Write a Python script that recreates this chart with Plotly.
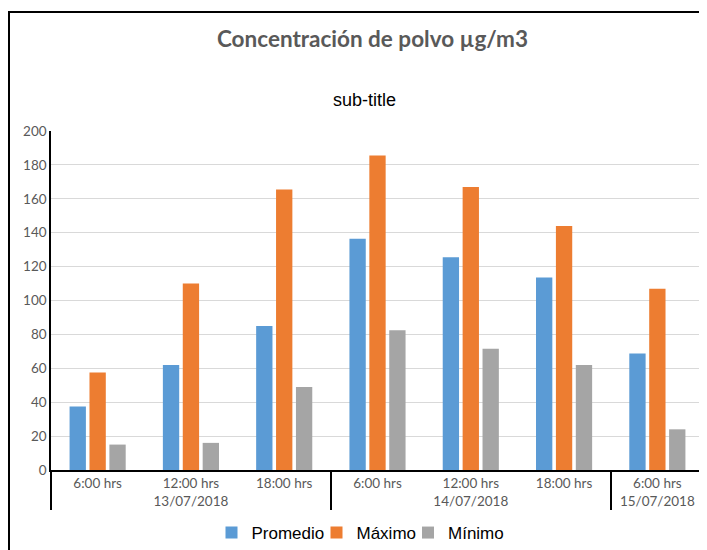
import plotly.graph_objects as go

hours = ["6:00 hrs", "12:00 hrs", "18:00 hrs", "6:00 hrs", "12:00 hrs", "18:00 hrs", "6:00 hrs"]
dates = ["13/07/2018", "13/07/2018", "13/07/2018",
         "14/07/2018", "14/07/2018", "14/07/2018", "15/07/2018"]
promedio = [37.5, 62, 85, 136.5, 125.5, 113.5, 68.8]
maximo = [57.5, 110, 165.5, 185.5, 167, 144, 107]
minimo = [15, 16, 49, 82.5, 71.5, 62, 24]

series_names = ["Promedio", "Máximo", "Mínimo"]
series_vals = [promedio, maximo, minimo]
series_colors = ["#5B9BD5", "#ED7D31", "#A5A5A5"]

# page body has an 8px margin; lay out in reference pixel coords and convert
OFF = 8
W, H = 707 - OFF, 550 - OFF
PL, PR, PT, PB = 51, 704, 131, 470          # plot area in reference pixels
L, T = PL - OFF, PT - OFF
R = W - (PR - OFF)
B = H - (PB - OFF)
pw = PR - PL
ph = PB - PT


def px_x(p):
    return (p - PL) / pw


def px_y(p):
    return 1 - (p - PT) / ph


legend_keys = ["legend", "legend2", "legend3"]
legend_centers = [270.5, 369, 458.5]

fig = go.Figure()
for name, vals, col, lk in zip(series_names, series_vals, series_colors, legend_keys):
    fig.add_trace(go.Bar(x=[dates, hours], y=vals, name=name, legend=lk,
                         marker=dict(color=col, line=dict(width=0))))

tick_font = dict(family="Lato, 'Open Sans', sans-serif", size=13.5, color="#595959")
legend_font = dict(family="'Liberation Sans', Arial, sans-serif", size=17, color="#000000")

legends = {}
for lk, cx in zip(legend_keys, legend_centers):
    legends[lk] = dict(orientation="h", x=px_x(cx), xanchor="center",
                       y=px_y(533), yanchor="middle", font=legend_font,
                       itemwidth=30, bgcolor="rgba(0,0,0,0)", borderwidth=0)

fig.update_layout(
    width=W, height=H,
    margin=dict(l=L, r=R, t=T, b=B, autoexpand=False),
    paper_bgcolor="white", plot_bgcolor="white",
    barmode="group", bargap=0.36, bargroupgap=0.18,
    title=dict(text="<b>Concentración de polvo µg/m3</b>",
               font=dict(family="Lato, 'Open Sans', sans-serif", size=22.5, color="#595959"),
               x=px_x(372.5), xref="paper", xanchor="center",
               y=1 - (39 - OFF) / H, yref="container", yanchor="middle"),
    showlegend=True,
    xaxis=dict(type="multicategory", showline=True, linecolor="#000000", linewidth=1.5,
               showgrid=False, ticks="", tickfont=tick_font,
               showdividers=True, dividercolor="#000000", dividerwidth=1.5),
    yaxis=dict(range=[0, 200], dtick=20, showline=True, linecolor="#000000", linewidth=1.5,
               mirror=True, showgrid=True, gridcolor="#D9D9D9", gridwidth=1,
               ticks="", tickfont=tick_font, zeroline=False),
    annotations=[dict(text="sub-title", xref="paper", yref="paper",
                      x=px_x(364.5), y=px_y(100), xanchor="center", yanchor="middle",
                      showarrow=False,
                      font=dict(family="'Liberation Sans', Arial, sans-serif", size=18, color="#000000"))],
    shapes=[dict(type="rect", xref="paper", yref="paper",
                 x0=px_x(9), x1=px_x(730), y0=px_y(580), y1=px_y(12),
                 line=dict(color="#000000", width=2), fillcolor="rgba(0,0,0,0)", layer="above")],
    **legends,
)

fig.write_html("out.html")
